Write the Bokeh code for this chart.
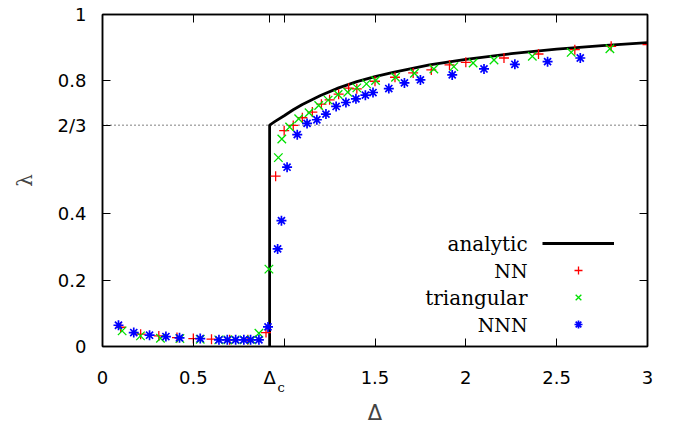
from bokeh.plotting import figure
from bokeh.models import Label, Legend, LegendItem, LinearAxis, FixedTicker, Span
from bokeh.embed import file_html
from bokeh.resources import INLINE

# ---------------- data ----------------
delta_c = 0.92

analytic_x = [0.92, 0.92, 0.95, 1.0, 1.05, 1.1, 1.2, 1.3, 1.4, 1.5, 1.6, 1.8, 2.0, 2.25, 2.5, 2.75, 3.0]
analytic_y = [0.0, 0.667, 0.678, 0.695, 0.713, 0.729, 0.756, 0.779, 0.798, 0.813, 0.826, 0.848, 0.865, 0.882, 0.896, 0.906, 0.915]

nn_x = [0.10, 0.21, 0.31, 0.41, 0.50, 0.60, 0.70, 0.80, 0.90, 0.953, 1.0, 1.05, 1.10, 1.155, 1.205,
        1.25, 1.30, 1.355, 1.40, 1.50, 1.61, 1.71, 1.81, 1.91, 2.00, 2.21, 2.40, 2.60, 2.80, 3.0]
nn_y = [0.058, 0.037, 0.032, 0.027, 0.024, 0.022, 0.020, 0.020, 0.042, 0.513, 0.650, 0.666, 0.689, 0.706, 0.730,
        0.743, 0.760, 0.778, 0.776, 0.799, 0.811, 0.824, 0.833, 0.848, 0.856, 0.869, 0.881, 0.894, 0.904, 0.909]

tri_x = [0.108, 0.209, 0.319, 0.426, 0.538, 0.64, 0.69, 0.73, 0.78, 0.82, 0.861, 0.916, 0.968, 0.987, 1.03,
         1.08, 1.137, 1.19, 1.242, 1.297, 1.35, 1.40, 1.453, 1.503, 1.613, 1.717, 1.824, 1.934, 2.04,
         2.155, 2.366, 2.58, 2.793]
tri_y = [0.047, 0.032, 0.025, 0.024, 0.022, 0.020, 0.020, 0.020, 0.020, 0.020, 0.040, 0.233, 0.569, 0.625, 0.661,
         0.686, 0.704, 0.726, 0.742, 0.759, 0.766, 0.779, 0.791, 0.801, 0.811, 0.823, 0.836, 0.843, 0.854,
         0.863, 0.874, 0.886, 0.897]

nnn_x = [0.088, 0.172, 0.259, 0.349, 0.424, 0.538, 0.641, 0.687, 0.733, 0.778, 0.815, 0.861, 0.911,
         0.964, 0.985, 1.016, 1.072, 1.126, 1.18, 1.23, 1.286, 1.34, 1.395, 1.447, 1.489, 1.576,
         1.662, 1.75, 1.925, 2.10, 2.27, 2.45, 2.63]
nnn_y = [0.064, 0.042, 0.034, 0.030, 0.026, 0.024, 0.020, 0.020, 0.020, 0.020, 0.020, 0.020, 0.059,
         0.294, 0.379, 0.540, 0.638, 0.672, 0.683, 0.700, 0.723, 0.735, 0.746, 0.757, 0.765, 0.777,
         0.794, 0.803, 0.818, 0.836, 0.850, 0.858, 0.869]

x_ticks = [0, 0.5, delta_c, 1.0, 1.5, 2, 2.5, 3]
y_ticks = [0, 0.2, 0.4, 2 / 3, 0.8, 1]
legend_labels = ["analytic", "NN", "triangular", "NNN"]

# ---------------- figure ----------------
p = figure(width=677, height=428, x_range=(0, 3), y_range=(0, 1),
           output_backend="svg", toolbar_location=None,
           min_border_left=102, min_border_right=30, min_border_top=14, min_border_bottom=82)
p.grid.visible = False
p.outline_line_color = "black"
p.outline_line_width = 1.5
p.background_fill_color = "white"
p.border_fill_color = "white"

TICK_FONT = "DejaVu Sans"
SERIF = "DejaVu Serif"

xa = p.xaxis[0]
xa.ticker = FixedTicker(ticks=x_ticks)
xa.major_label_overrides = {delta_c: "Δ", 1.0: "", 0: "0", 2: "2", 3: "3"}
xa.major_tick_in = 8
xa.major_tick_out = 0
xa.minor_tick_line_color = None
xa.axis_line_width = 1.5
xa.major_label_text_font = TICK_FONT
xa.major_label_text_font_size = "18px"
xa.major_label_text_color = "black"
xa.major_label_standoff = 20

# second (label-only) axis below: carries the subscript "c" of Δc and the axis title
sub_pos = delta_c + 0.064
cax = LinearAxis(ticker=FixedTicker(ticks=[sub_pos]), major_label_overrides={sub_pos: "c"},
                 axis_line_color=None, major_tick_line_color=None, minor_tick_line_color=None,
                 major_label_text_font=SERIF, major_label_text_font_size="13px",
                 major_label_text_color="black", major_label_standoff=-17,
                 axis_label="Δ", axis_label_text_font=TICK_FONT,
                 axis_label_text_font_style="normal", axis_label_text_font_size="21px",
                 axis_label_standoff=3)
p.add_layout(cax, "below")

ya = p.yaxis[0]
ya.ticker = FixedTicker(ticks=y_ticks)
ya.major_label_overrides = {2 / 3: "2/3", 0: "0", 1: "1"}
ya.major_tick_in = 8
ya.major_tick_out = 0
ya.minor_tick_line_color = None
ya.axis_line_width = 1.5
ya.major_label_text_font = TICK_FONT
ya.major_label_text_font_size = "18px"
ya.major_label_text_color = "black"
ya.major_label_standoff = 16
ya.axis_label = "λ"
ya.axis_label_text_font = SERIF
ya.axis_label_text_font_style = "normal"
ya.axis_label_text_font_size = "20px"
ya.axis_label_standoff = 18

# mirrored ticks on the top and right (no labels)
for side, ticks in (("right", y_ticks), ("above", x_ticks)):
    ax = LinearAxis(ticker=FixedTicker(ticks=ticks),
                    major_label_overrides={t: "" for t in ticks},
                    major_tick_in=8, major_tick_out=0, minor_tick_line_color=None,
                    axis_line_width=1.5, major_label_standoff=0)
    p.add_layout(ax, side)

# dotted 2/3 reference line
p.add_layout(Span(location=2 / 3, dimension="width", line_color="black",
                  line_dash="1 3", line_width=1, level="underlay"))

# ---------------- series ----------------
r_an = p.line(analytic_x, analytic_y, line_color="black", line_width=2.8)
r_nn = p.scatter(nn_x, nn_y, marker="cross", size=10, line_color="#ff0000", line_width=1.3)
r_tri = p.scatter(tri_x, tri_y, marker="x", size=12, line_color="#00e000", line_width=1.3)
r_nnn = p.scatter(nnn_x, nnn_y, marker="asterisk", size=10, line_color="#0000ff", line_width=1.7)

# ---------------- legend (samples on the right, text right-aligned) ----------------
legend = Legend(items=[LegendItem(label=" ", renderers=[r]) for r in (r_an, r_nn, r_tri, r_nnn)],
                location=(440, 12), glyph_width=72, glyph_height=20, label_height=20,
                label_width=0, label_standoff=0, label_text_font_size="1px",
                spacing=7, padding=0, margin=0, border_line_color=None,
                background_fill_alpha=0)
p.add_layout(legend, "center")

legend_y = [0.310, 0.228, 0.147, 0.065]
legend_sizes = ["20px", "19px", "20px", "19px"]
for txt, ly, fs in zip(legend_labels, legend_y, legend_sizes):
    p.add_layout(Label(x=2.34, y=ly, text=txt, text_align="right", text_baseline="middle",
                       text_font=SERIF, text_font_size=fs, text_color="black"))

open("out.html", "w").write(file_html(p, INLINE))
